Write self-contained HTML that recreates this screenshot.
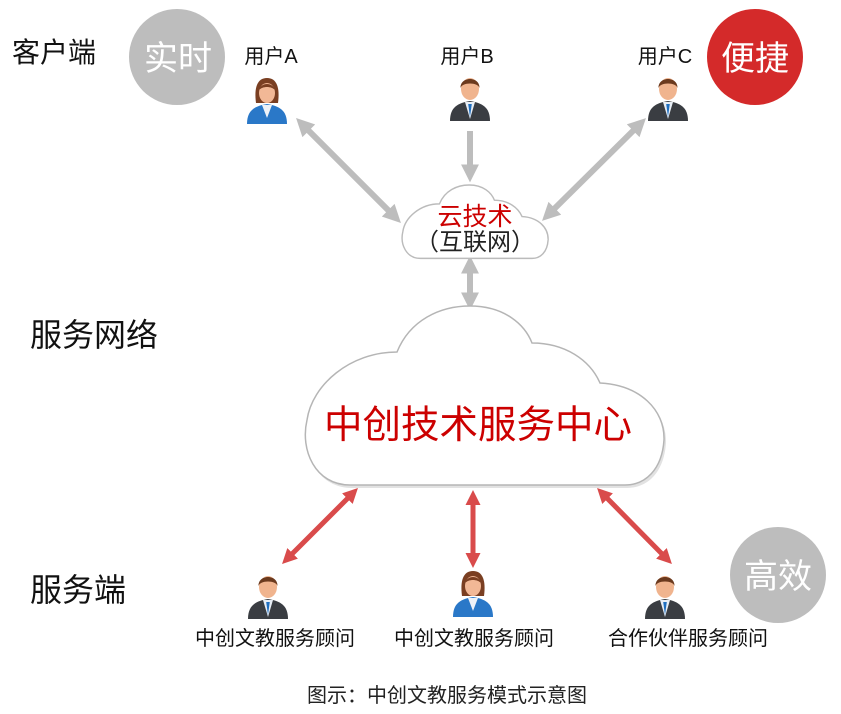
<!DOCTYPE html>
<html><head><meta charset="utf-8"><style>
html,body{margin:0;padding:0;background:#fff;}
svg{display:block;font-family:"Liberation Sans","Noto Sans CJK SC",sans-serif;}
</style></head><body>
<svg width="841" height="714" viewBox="0 0 841 714" xmlns="http://www.w3.org/2000/svg">
<defs>
<marker id="ag" markerWidth="3" markerHeight="3" refX="1.6" refY="1.5" orient="auto-start-reverse" markerUnits="strokeWidth"><path d="M0,0 L3,1.5 L0,3 Z" fill="#bdbdbd"/></marker>
<marker id="ar" markerWidth="3" markerHeight="3" refX="1.6" refY="1.5" orient="auto-start-reverse" markerUnits="strokeWidth"><path d="M0,0 L3,1.5 L0,3 Z" fill="#d94b4b"/></marker>
<g id="man">
<path d="M-20,26 C-20,12 -12,8 0,6 C12,8 20,12 20,26 Z" fill="#3a3d42"/>
<path d="M-5,7 L0,24 L5,7 Z" fill="#e8eef5"/>
<path d="M-1.8,9 L0,22 L1.8,9 Z" fill="#1f6fc0"/>
<ellipse cx="0" cy="-6" rx="9" ry="11" fill="#f0b48e"/>
<path d="M-9.5,-7 C-10,-19 10,-19 9.5,-7 C8,-13 -8,-13 -9.5,-7 Z" fill="#6b3a1e"/>
</g>
<g id="woman">
<path d="M-20,26 C-20,12 -12,8 0,6 C12,8 20,12 20,26 Z" fill="#2a78c8"/>
<path d="M-5,7 L0,20 L5,7 Z" fill="#eef2f8"/>
<path d="M-11,5 C-13,-10 -10,-20 0,-20 C10,-20 13,-10 11,5 Z" fill="#7a3f22"/>
<ellipse cx="0" cy="-5" rx="8" ry="10" fill="#f2b896"/>
<path d="M-8,-8 C-6,-16 6,-16 8,-8 C4,-12 -4,-12 -8,-8 Z" fill="#7a3f22"/>
</g>
<path id="cloud" d="M350,485 C315,485 300,450 307,420 C312,385 350,352 397,352 C410,320 440,306 470,306 C505,306 525,325 532,343 C565,343 590,360 600,383 C640,385 665,410 664,440 C662,470 645,485 625,485 Z"/>
</defs>

<!-- circles -->
<circle cx="177" cy="57" r="48" fill="#bdbdbd"/>
<text x="178" y="70" font-size="34" fill="#fff" text-anchor="middle">实时</text>
<circle cx="755" cy="57" r="48" fill="#d42a2a"/>
<text x="755" y="70" font-size="34" fill="#fff" text-anchor="middle">便捷</text>
<circle cx="778" cy="575" r="48" fill="#bdbdbd"/>
<text x="778" y="588" font-size="34" fill="#fff" text-anchor="middle">高效</text>

<!-- section labels -->
<text x="12" y="62" font-size="28" fill="#111">客户端</text>
<text x="30" y="346" font-size="32" fill="#111">服务网络</text>
<text x="30" y="601" font-size="32" fill="#111">服务端</text>

<!-- users -->
<text x="271" y="63" font-size="20" fill="#111" text-anchor="middle">用户A</text>
<text x="467" y="63" font-size="20" fill="#111" text-anchor="middle">用户B</text>
<text x="665" y="63" font-size="20" fill="#111" text-anchor="middle">用户C</text>
<use href="#woman" x="267" y="98"/>
<use href="#man" x="470" y="95"/>
<use href="#man" x="668" y="95"/>

<!-- gray arrows -->
<line x1="302" y1="124" x2="395" y2="217" stroke="#bdbdbd" stroke-width="6" marker-start="url(#ag)" marker-end="url(#ag)"/>
<line x1="470" y1="131" x2="470" y2="174" stroke="#bdbdbd" stroke-width="6" marker-end="url(#ag)"/>
<line x1="640" y1="124" x2="548" y2="215" stroke="#bdbdbd" stroke-width="6" marker-start="url(#ag)" marker-end="url(#ag)"/>
<line x1="470" y1="264" x2="470" y2="302" stroke="#bdbdbd" stroke-width="6" marker-start="url(#ag)" marker-end="url(#ag)"/>

<!-- small cloud -->
<g transform="translate(402,185) scale(0.407,0.41) translate(-305,-306)">
<use href="#cloud" fill="#fff" stroke="#bbb" stroke-width="3.5"/>
</g>
<text x="475" y="225" font-size="25" fill="#cc0000" text-anchor="middle">云技术</text>
<text x="475" y="250" font-size="24" fill="#222" text-anchor="middle">（互联网）</text>

<!-- big cloud -->
<use href="#cloud" fill="#e2e2e2" transform="translate(2,3)"/>
<use href="#cloud" fill="#fff" stroke="#b5b5b5" stroke-width="1.5"/>
<text x="478" y="438" font-size="38.5" fill="#cc0000" text-anchor="middle">中创技术服务中心</text>

<!-- red arrows -->
<line x1="353" y1="493" x2="287" y2="559" stroke="#d94b4b" stroke-width="5" marker-start="url(#ar)" marker-end="url(#ar)"/>
<line x1="473" y1="497" x2="473" y2="561" stroke="#d94b4b" stroke-width="5" marker-start="url(#ar)" marker-end="url(#ar)"/>
<line x1="602" y1="493" x2="667" y2="559" stroke="#d94b4b" stroke-width="5" marker-start="url(#ar)" marker-end="url(#ar)"/>

<!-- bottom persons -->
<use href="#man" x="268" y="593"/>
<use href="#woman" x="473" y="591"/>
<use href="#man" x="665" y="593"/>
<text x="275" y="645" font-size="20" fill="#111" text-anchor="middle">中创文教服务顾问</text>
<text x="474" y="645" font-size="20" fill="#111" text-anchor="middle">中创文教服务顾问</text>
<text x="688" y="645" font-size="20" fill="#111" text-anchor="middle">合作伙伴服务顾问</text>

<!-- caption -->
<text x="447" y="702" font-size="20" fill="#222" text-anchor="middle">图示：中创文教服务模式示意图</text>
</svg>
</body></html>
